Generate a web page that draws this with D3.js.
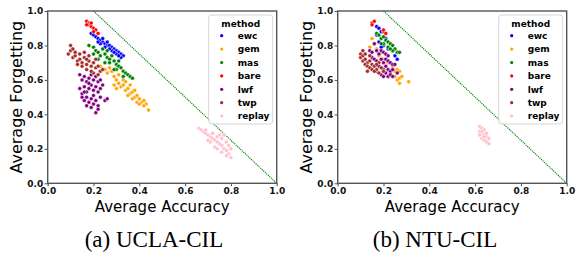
<!doctype html>
<html>
<head>
<meta charset="utf-8">
<script src="https://d3js.org/d3.v7.min.js"></script>
<style>
  body { margin: 0; background: #fff; }
  svg text { font-family: "DejaVu Sans", sans-serif; }
</style>
</head>
<body>
<div id="chart"></div>
<script>
// methods and colours (seaborn named palette)
var methods = ["ewc", "gem", "mas", "bare", "lwf", "twp", "replay"];
var colors = ["blue", "orange", "green", "red", "purple", "brown", "pink"];
var ticks = [0.0, 0.2, 0.4, 0.6, 0.8, 1.0];
var captions = ["(a) UCLA-CIL", "(b) NTU-CIL"];

// [accuracy, forgetting], UCLA-CIL
var uclaEwc = [[0.19,0.87],[0.2,0.86],[0.21,0.85],[0.22,0.84],[0.23,0.83],[0.24,0.82],[0.25,0.81],[0.26,0.8],[0.27,0.8],[0.28,0.79],[0.29,0.78],[0.3,0.77],[0.31,0.76],[0.32,0.75],[0.33,0.74],[0.32,0.73],[0.3,0.75],[0.28,0.77],[0.26,0.82],[0.24,0.84],[0.23,0.81],[0.25,0.79],[0.27,0.78],[0.29,0.76],[0.31,0.74],[0.22,0.82]];
var uclaGem = [[0.22,0.72],[0.23,0.68],[0.25,0.66],[0.26,0.64],[0.28,0.65],[0.29,0.62],[0.3,0.6],[0.31,0.58],[0.3,0.55],[0.32,0.56],[0.33,0.57],[0.34,0.54],[0.35,0.55],[0.36,0.52],[0.37,0.53],[0.38,0.5],[0.39,0.51],[0.4,0.49],[0.41,0.47],[0.42,0.48],[0.43,0.46],[0.44,0.425],[0.42,0.45],[0.39,0.47],[0.37,0.49],[0.35,0.51],[0.33,0.6],[0.27,0.67],[0.4,0.46],[0.36,0.57],[0.38,0.54],[0.29,0.57],[0.31,0.63],[0.34,0.59]];
var uclaMas = [[0.18,0.8],[0.2,0.79],[0.21,0.77],[0.2,0.75],[0.22,0.76],[0.23,0.74],[0.24,0.78],[0.25,0.75],[0.26,0.73],[0.27,0.72],[0.28,0.74],[0.27,0.7],[0.29,0.71],[0.3,0.69],[0.31,0.68],[0.3,0.66],[0.32,0.67],[0.33,0.65],[0.34,0.64],[0.35,0.63],[0.36,0.62],[0.37,0.61],[0.33,0.62],[0.25,0.7],[0.22,0.72],[0.29,0.66],[0.26,0.77],[0.31,0.71]];
var uclaBare = [[0.17,0.94],[0.18,0.93],[0.18,0.92],[0.19,0.91],[0.2,0.9],[0.21,0.89],[0.19,0.93],[0.17,0.92],[0.2,0.88],[0.22,0.87]];
var uclaLwf = [[0.14,0.63],[0.15,0.6],[0.16,0.62],[0.17,0.59],[0.18,0.61],[0.19,0.63],[0.2,0.6],[0.21,0.62],[0.22,0.59],[0.23,0.6],[0.14,0.55],[0.15,0.52],[0.16,0.56],[0.17,0.53],[0.18,0.55],[0.19,0.57],[0.2,0.54],[0.21,0.56],[0.22,0.53],[0.23,0.55],[0.15,0.5],[0.16,0.48],[0.17,0.5],[0.18,0.47],[0.19,0.49],[0.2,0.46],[0.21,0.48],[0.22,0.45],[0.21,0.41],[0.19,0.44],[0.17,0.45],[0.23,0.5],[0.25,0.48],[0.26,0.49],[0.24,0.57],[0.2,0.51],[0.18,0.58],[0.22,0.43],[0.16,0.53]];
var uclaTwp = [[0.1,0.8],[0.1,0.77],[0.09,0.75],[0.11,0.73],[0.12,0.74],[0.13,0.71],[0.14,0.72],[0.15,0.7],[0.16,0.73],[0.17,0.69],[0.18,0.71],[0.19,0.68],[0.2,0.7],[0.21,0.67],[0.22,0.68],[0.23,0.65],[0.24,0.66],[0.2,0.64],[0.17,0.66],[0.15,0.68],[0.14,0.75],[0.12,0.76],[0.18,0.74],[0.16,0.76],[0.13,0.69],[0.19,0.65],[0.21,0.72],[0.22,0.63],[0.11,0.78],[0.17,0.72]];
var uclaReplay = [[0.66,0.32],[0.67,0.31],[0.68,0.3],[0.69,0.29],[0.7,0.28],[0.71,0.27],[0.72,0.26],[0.73,0.25],[0.74,0.24],[0.75,0.23],[0.76,0.22],[0.77,0.2],[0.78,0.19],[0.79,0.17],[0.8,0.15],[0.69,0.31],[0.72,0.29],[0.74,0.27],[0.76,0.26],[0.78,0.24],[0.79,0.22],[0.8,0.2],[0.77,0.28],[0.75,0.28],[0.71,0.24],[0.73,0.21],[0.76,0.18],[0.78,0.16],[0.7,0.25],[0.74,0.2]];

// NTU-CIL
var ntuEwc = [[0.17,0.91],[0.18,0.9],[0.19,0.88],[0.17,0.86],[0.18,0.82],[0.2,0.8],[0.19,0.79],[0.22,0.78],[0.24,0.77],[0.26,0.72],[0.25,0.74],[0.21,0.84]];
var ntuGem = [[0.15,0.84],[0.16,0.81],[0.14,0.79],[0.17,0.78],[0.18,0.74],[0.2,0.72],[0.22,0.7],[0.24,0.68],[0.25,0.65],[0.26,0.66],[0.27,0.65],[0.25,0.62],[0.26,0.6],[0.27,0.61],[0.27,0.58],[0.31,0.59],[0.23,0.64],[0.19,0.76],[0.21,0.75],[0.28,0.62]];
var ntuMas = [[0.17,0.87],[0.18,0.86],[0.19,0.84],[0.2,0.85],[0.21,0.83],[0.22,0.82],[0.23,0.81],[0.24,0.8],[0.25,0.78],[0.26,0.76],[0.27,0.76],[0.24,0.77],[0.22,0.79],[0.2,0.81],[0.23,0.78],[0.19,0.81]];
var ntuBare = [[0.15,0.93],[0.16,0.94],[0.15,0.92],[0.2,0.88],[0.2,0.89],[0.21,0.87]];
var ntuLwf = [[0.16,0.81],[0.14,0.77],[0.15,0.76],[0.17,0.77],[0.18,0.75],[0.19,0.77],[0.2,0.76],[0.21,0.75],[0.22,0.74],[0.15,0.73],[0.16,0.72],[0.17,0.71],[0.19,0.72],[0.2,0.7],[0.21,0.72],[0.22,0.71],[0.23,0.7],[0.24,0.69],[0.25,0.69],[0.18,0.68],[0.2,0.66],[0.21,0.68],[0.22,0.66],[0.23,0.65],[0.24,0.66],[0.19,0.63],[0.2,0.62],[0.21,0.64],[0.22,0.62],[0.23,0.63],[0.17,0.65],[0.24,0.62],[0.26,0.64]];
var ntuTwp = [[0.1,0.75],[0.11,0.77],[0.1,0.73],[0.11,0.71],[0.12,0.72],[0.13,0.7],[0.14,0.71],[0.12,0.69],[0.13,0.68],[0.14,0.67],[0.15,0.69],[0.16,0.68],[0.17,0.66],[0.15,0.66],[0.16,0.65],[0.18,0.64],[0.19,0.67],[0.18,0.7],[0.11,0.74],[0.14,0.74],[0.13,0.65],[0.17,0.69],[0.12,0.75],[0.2,0.65]];
var ntuReplay = [[0.62,0.33],[0.63,0.32],[0.62,0.3],[0.63,0.29],[0.64,0.31],[0.64,0.28],[0.65,0.27],[0.62,0.28],[0.63,0.26],[0.64,0.25],[0.65,0.24],[0.66,0.23],[0.66,0.26],[0.65,0.29],[0.63,0.3],[0.64,0.27]];

// reference line from (0.2, 1.0) to (1.0, 0.0)
var refLine = [[0.2, 1.0], [1.0, 0.0]];

var panels = [
  [uclaEwc, uclaGem, uclaMas, uclaBare, uclaLwf, uclaTwp, uclaReplay],
  [ntuEwc, ntuGem, ntuMas, ntuBare, ntuLwf, ntuTwp, ntuReplay]
];

var svg = d3.select("#chart").append("svg")
    .attr("width", 580)
    .attr("height", 257);

var color = d3.scaleOrdinal().domain(methods).range(colors);

var lefts = [47.7, 337.7];
var captionX = [154, 435];
var plotW = 229, plotTop = 11, plotBottom = 183.3;

panels.forEach(function(series, p) {
  var x = d3.scaleLinear().domain([0, 1]).range([lefts[p], lefts[p] + plotW]);
  var y = d3.scaleLinear().domain([0, 1]).range([plotBottom, plotTop]);
  var g = svg.append("g");

  // axes
  var xa = g.append("g")
      .attr("transform", "translate(0," + plotBottom + ")")
      .call(d3.axisBottom(x).tickValues(ticks).tickFormat(d3.format(".1f")).tickSize(3).tickPadding(1));
  var ya = g.append("g")
      .attr("transform", "translate(" + lefts[p] + ",0)")
      .call(d3.axisLeft(y).tickValues(ticks).tickFormat(d3.format(".1f")).tickSize(3).tickPadding(1.5));
  [xa, ya].forEach(function(a) {
    a.select(".domain").remove();
    a.selectAll(".tick line").attr("stroke", "#222").attr("stroke-width", 0.8);
    a.selectAll(".tick text")
      .attr("fill", "#111")
      .style("font-family", "DejaVu Sans")
      .style("font-weight", "bold")
      .style("font-size", "9px");
  });

  // dotted reference line
  g.append("path")
    .datum(refLine)
    .attr("d", d3.line().x(function(d) { return x(d[0]); }).y(function(d) { return y(d[1]); }))
    .attr("fill", "none")
    .attr("stroke", "green")
    .attr("stroke-width", 1.1)
    .attr("stroke-dasharray", "1.2,0.9");

  // points
  series.forEach(function(pts, i) {
    g.append("g").selectAll("circle")
      .data(pts)
      .enter()
      .append("circle")
        .attr("cx", function(d) { return x(d[0]); })
        .attr("cy", function(d) { return y(d[1]); })
        .attr("r", 2)
        .attr("fill", color(methods[i]))
        .attr("stroke", "#fff")
        .attr("stroke-width", 0.5);
  });

  // frame
  g.append("rect")
    .attr("x", lefts[p])
    .attr("y", plotTop)
    .attr("width", plotW)
    .attr("height", plotBottom - plotTop)
    .attr("fill", "none")
    .attr("stroke", "#555")
    .attr("stroke-width", 1.4);

  // legend
  var lx = lefts[p] + plotW - 68, ly = 15;
  var lg = g.append("g").attr("transform", "translate(" + lx + "," + ly + ")");
  lg.append("rect")
    .attr("width", 64).attr("height", 109)
    .attr("rx", 3)
    .attr("fill", "#fff").attr("fill-opacity", 0.85)
    .attr("stroke", "#ccc").attr("stroke-width", 0.8);
  lg.append("text")
    .attr("x", 32).attr("y", 11.5)
    .attr("text-anchor", "middle")
    .style("font-weight", "bold").style("font-size", "9px")
    .text("method");
  methods.forEach(function(m, i) {
    var cy = 20.7 + i * 13.4;
    lg.append("circle")
      .attr("cx", 13).attr("cy", cy).attr("r", 1.6)
      .attr("fill", color(m));
    lg.append("text")
      .attr("x", 29).attr("y", cy + 3.3)
      .style("font-weight", "bold").style("font-size", "9px")
      .text(m);
  });

  // axis labels
  g.append("text")
    .attr("x", lefts[p] + plotW / 2).attr("y", 212)
    .attr("text-anchor", "middle")
    .style("font-size", "15px")
    .text("Average Accuracy");
  g.append("text")
    .attr("transform", "translate(" + (lefts[p] - 26) + "," + ((plotTop + plotBottom) / 2) + ") rotate(-90)")
    .attr("text-anchor", "middle")
    .style("font-size", "16px")
    .text("Average Forgetting");

  // caption
  svg.append("text")
    .attr("x", captionX[p]).attr("y", 247)
    .attr("text-anchor", "middle")
    .style("font-family", "Liberation Serif, serif")
    .style("font-size", "23px")
    .text(captions[p]);
});
</script>
</body>
</html>
